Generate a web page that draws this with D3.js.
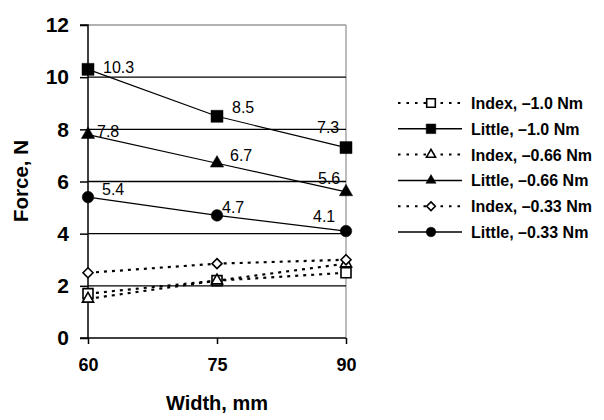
<!DOCTYPE html>
<html><head><meta charset="utf-8">
<script src="https://cdn.jsdelivr.net/npm/d3@7"></script>
<style>body{margin:0;background:#fff}svg{display:block}text{font-family:"Liberation Sans",Arial,sans-serif}</style>
</head><body>
<svg id="c" width="604" height="420"></svg>
<script>
const widths = [60, 75, 90];
const yTicks = [0, 2, 4, 6, 8, 10, 12];
const seriesNames = ["Index, \u20131.0 Nm", "Little, \u20131.0 Nm", "Index, \u20130.66 Nm", "Little, \u20130.66 Nm", "Index, \u20130.33 Nm", "Little, \u20130.33 Nm"];
const indexM10 = [1.7, 2.2, 2.5];
const littleM10 = [10.3, 8.5, 7.3];
const indexM066 = [1.5, 2.2, 2.85];
const littleM066 = [7.8, 6.7, 5.6];
const indexM033 = [2.5, 2.85, 3.0];
const littleM033 = [5.4, 4.7, 4.1];
const seriesValues = [indexM10, littleM10, indexM066, littleM066, indexM033, littleM033];
const markers = ["square", "square", "triangle", "triangle", "diamond", "circle"];
const filled = [false, true, false, true, false, true];
const dashed = [true, false, true, false, true, false];

const svg = d3.select("#c");
const x = d3.scaleLinear().domain([60, 90]).range([88, 346]);
const y = d3.scaleLinear().domain([0, 12]).range([338, 25]);

// border top/right
svg.append("line").attr("x1", 88).attr("x2", 346).attr("y1", y(12)).attr("y2", y(12)).attr("stroke", "#999").attr("stroke-width", 1.3);
svg.append("line").attr("x1", 346).attr("x2", 346).attr("y1", y(12)).attr("y2", y(0)).attr("stroke", "#999").attr("stroke-width", 1.3);
// gridlines
svg.append("g").selectAll("line").data(yTicks.filter(d => d > 0 && d < 12)).join("line")
  .attr("x1", 88).attr("x2", 346).attr("y1", d => y(d)).attr("y2", d => y(d))
  .attr("stroke", "#000").attr("stroke-width", 1.3);

// axes
const yAxis = svg.append("g").attr("transform", "translate(88,0)")
  .call(d3.axisLeft(y).tickValues(yTicks).tickSize(8).tickPadding(11).tickFormat(d3.format("d")));
const xAxis = svg.append("g").attr("transform", `translate(0,${y(0)})`)
  .call(d3.axisBottom(x).tickValues(widths).tickSize(6).tickPadding(14).tickFormat(d3.format("d")));
[yAxis, xAxis].forEach(a => {
  a.select(".domain").attr("stroke", "#000").attr("stroke-width", 1.5);
  a.selectAll(".tick line").attr("stroke", "#000").attr("stroke-width", 1.5);
  a.selectAll("text").attr("fill", "#000").style("font-weight", "bold").attr("font-family", "'Liberation Sans',Arial,sans-serif");
});
yAxis.selectAll("text").style("font-size", "21px");
xAxis.selectAll("text").style("font-size", "18px");
yAxis.select(".domain").attr("d", `M-8,${y(12)}H0V${y(0)}H-8`);
xAxis.select(".domain").attr("d", `M${x(60)},0H${x(90)}`);

svg.append("text").attr("x", 217).attr("y", 410).attr("text-anchor", "middle")
  .style("font-size", "20px").style("font-weight", "bold").text("Width, mm");
svg.append("text").attr("transform", "translate(28,181) rotate(-90)").attr("text-anchor", "middle")
  .style("font-size", "20.5px").style("font-weight", "bold").text("Force, N");

const symType = {square: d3.symbolSquare, triangle: d3.symbolTriangle, circle: d3.symbolCircle};
function markerPath(m, r) {
  if (m === "diamond") return `M0,${-r}L${r},0L0,${r}L${-r},0Z`;
  const sizes = {square: (2*r)*(2*r), triangle: (2*r)*(2*r)*0.48, circle: Math.PI*r*r};
  return d3.symbol().type(symType[m]).size(sizes[m])();
}
function drawMarker(g, m, f, cx, cy, r) {
  g.append("path").attr("d", markerPath(m, r))
    .attr("transform", `translate(${cx},${cy})`)
    .attr("fill", f ? "#000" : "#fff").attr("stroke", "#000").attr("stroke-width", f ? 0.5 : 1.6);
}
const markerR = {square: 6, triangle: 6.3, diamond: 5, circle: 5.8};
const openR = {square: 5, triangle: 5.3, diamond: 5, circle: 5};

const line = d3.line().x((d, i) => x(widths[i])).y(d => y(d));
const order = [0, 2, 4, 1, 3, 5];
order.forEach(s => {
  svg.append("path").datum(seriesValues[s]).attr("d", line).attr("fill", "none").attr("stroke", "#000")
    .attr("stroke-width", dashed[s] ? 2.2 : 1.2).attr("stroke-dasharray", dashed[s] ? "3,5" : null);
});
order.forEach(s => {
  const g = svg.append("g");
  seriesValues[s].forEach((v, i) => drawMarker(g, markers[s], filled[s], x(widths[i]), y(v),
    filled[s] ? markerR[markers[s]] : openR[markers[s]]));
});

// data labels (offsets per labelled series, per width)
const labelOffsets = {
  1: [[15, 4], [15, -3], [-29, -15]],
  3: [[9, 2], [13, -2], [-28, -8]],
  5: [[14, -2], [5, -2], [-33, -9]]
};
[1, 3, 5].forEach(s => {
  seriesValues[s].forEach((v, i) => {
    svg.append("text").attr("x", x(widths[i]) + labelOffsets[s][i][0]).attr("y", y(v) + labelOffsets[s][i][1])
      .style("font-size", "16px").attr("fill", "#000").text(d3.format(".1f")(v));
  });
});

// legend
const lg = svg.append("g");
seriesNames.forEach((n, s) => {
  const cy = 103 + s * 25.8;
  lg.append("line").attr("x1", 398).attr("x2", 462).attr("y1", cy).attr("y2", cy).attr("stroke", "#000")
    .attr("stroke-width", dashed[s] ? 2 : 1.5).attr("stroke-dasharray", dashed[s] ? "2.5,6" : null);
  drawMarker(lg, markers[s], filled[s], 431, cy, filled[s] ? 4.8 : 4.3);
  lg.append("text").attr("x", 471).attr("y", cy + 6).style("font-size", "16px").style("font-weight", "bold")
    .attr("fill", "#000").text(n);
});
</script>
</body></html>
